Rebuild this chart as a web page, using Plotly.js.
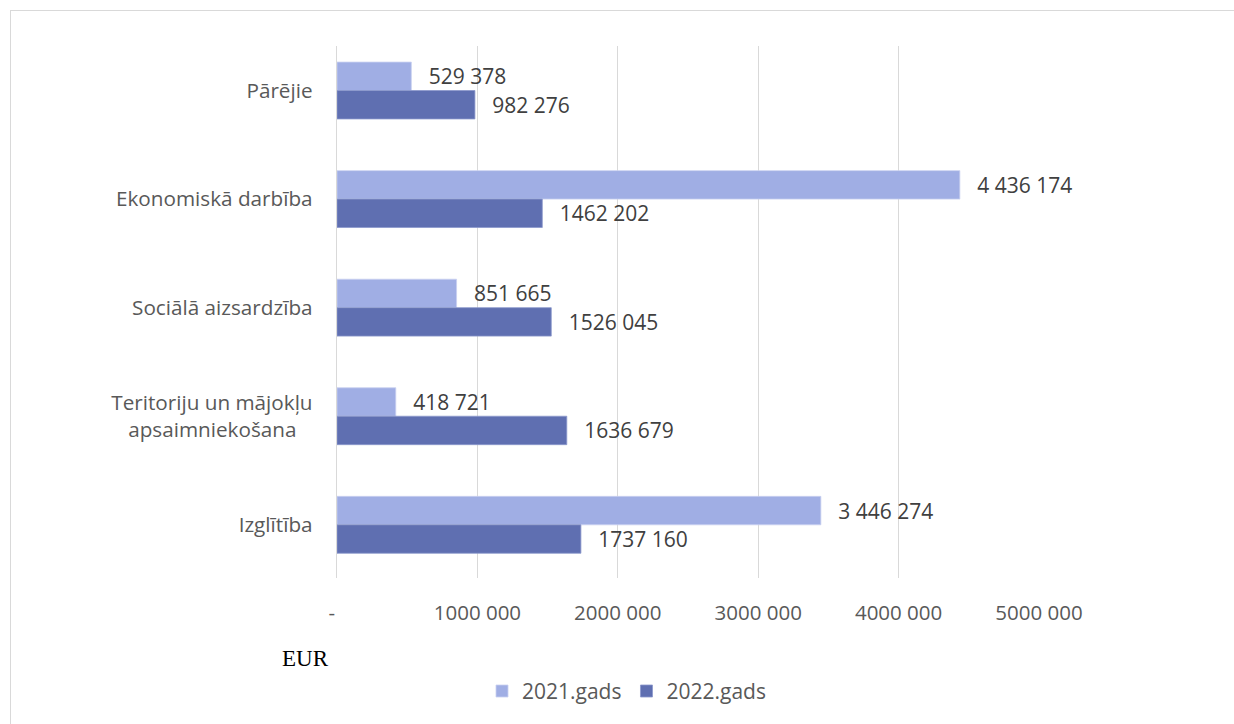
<!DOCTYPE html>
<html>
<head>
<meta charset="utf-8">
<script src="https://cdn.plot.ly/plotly-3.0.1.min.js"></script>
<style>
html,body{margin:0;padding:0;background:#fff;overflow:hidden;}
#frame{position:absolute;left:10px;top:10px;width:1240px;height:730px;border:1px solid #D9D9D9;box-sizing:border-box;}
#chart{position:absolute;left:0;top:0;width:1234px;height:724px;}
</style>
</head>
<body>
<div id="frame"></div>
<div id="chart"></div>
<script>
const categories = ["Pārējie", "Ekonomiskā darbība", "Sociālā aizsardzība", "Teritoriju un mājokļu<br>apsaimniekošana\u00A0\u00A0\u00A0", "Izglītība"];
const values2021 = [529378, 4436174, 851665, 418721, 3446274];
const values2022 = [982276, 1462202, 1526045, 1636679, 1737160];
const labels2021 = ["529 378", "4 436 174", "851 665", "418 721", "3 446 274"];
const labels2022 = ["982 276", "1462 202", "1526 045", "1636 679", "1737 160"];
const tickVals = [0, 1000000, 2000000, 3000000, 4000000, 5000000];
const tickText = ["-\u00A0\u00A0", "1000 000", "2000 000", "3000 000", "4000 000", "5000 000"];

const pad = s => "\u00A0\u00A0\u2009" + s;
const font = "Open Sans, sans-serif";

const traces = [
  {type:"bar", orientation:"h", name:"2021.gads", y:categories, x:values2021,
   marker:{color:"#A0AEE4", line:{color:"#C9D1F0", width:0.8}},
   text:labels2021.map(pad), textposition:"outside", cliponaxis:false,
   textfont:{family:font, size:21, color:"#404040"}, hoverinfo:"x+y"},
  {type:"bar", orientation:"h", name:"2022.gads", y:categories, x:values2022,
   marker:{color:"#5F6FB1", line:{color:"#8C98CC", width:0.8}},
   text:labels2022.map(pad), textposition:"outside", cliponaxis:false,
   textfont:{family:font, size:21, color:"#404040"}, hoverinfo:"x+y"}
];

const layout = {
  width:1234, height:724,
  margin:{l:337, r:195, t:46, b:143},
  paper_bgcolor:"rgba(0,0,0,0)", plot_bgcolor:"rgba(0,0,0,0)",
  barmode:"group", bargap:0.476, bargroupgap:0,
  font:{family:font, size:21, color:"#595959"},
  showlegend:true,
  legend:{orientation:"h", x:(482-337)/702, xanchor:"left", y:(581-695)/535, yanchor:"middle",
          font:{family:font, size:21, color:"#595959"}, traceorder:"normal",
          itemwidth:30},
  xaxis:{range:[0,5000000], tickvals:tickVals, ticktext:tickText,
         showgrid:true, gridcolor:"#D9D9D9", gridwidth:1.3, zeroline:false,
         showline:false, ticks:"", ticklabelstandoff:20,
         tickfont:{family:font, size:20.5, color:"#595959"}, fixedrange:true},
  yaxis:{type:"category", range:[4.49, -0.41], autorange:false, showgrid:false, zeroline:false,
         showline:true, linecolor:"#D9D9D9", linewidth:1.3, ticks:"", ticklabelstandoff:19,
         tickfont:{family:font, size:20.7, color:"#595959"}, fixedrange:true},
  annotations:[
    {text:"EUR", xref:"paper", yref:"paper", x:(305-337)/702, y:(581-662)/535,
     xanchor:"center", yanchor:"middle", showarrow:false,
     font:{family:"Liberation Serif, Times New Roman, serif", size:23, color:"#000000"}}
  ]
};

Plotly.newPlot("chart", traces, layout, {displayModeBar:false, staticPlot:true});
</script>
</body>
</html>
